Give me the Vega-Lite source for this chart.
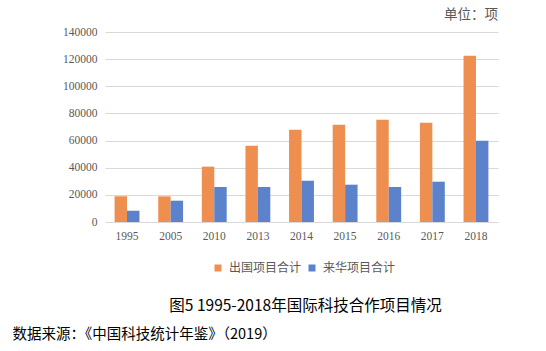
{
  "$schema": "https://vega.github.io/schema/vega-lite/v6.json",
  "width": 393,
  "height": 190,
  "autosize": {"type": "none"},
  "padding": {"left": 105, "top": 32, "right": 48, "bottom": 129},
  "background": "white",
  "title": {
    "text": "单位：项",
    "anchor": "end",
    "frame": "group",
    "orient": "top",
    "font": "Noto Sans CJK SC",
    "fontSize": 13.5,
    "fontWeight": "normal",
    "color": "#595959",
    "offset": 5
  },
  "data": {
    "values": [
      {"year": "1995", "type": "出国项目合计", "value": 18900},
      {"year": "1995", "type": "来华项目合计", "value": 8300},
      {"year": "2005", "type": "出国项目合计", "value": 18900},
      {"year": "2005", "type": "来华项目合计", "value": 15700},
      {"year": "2010", "type": "出国项目合计", "value": 40800},
      {"year": "2010", "type": "来华项目合计", "value": 25800},
      {"year": "2013", "type": "出国项目合计", "value": 56200},
      {"year": "2013", "type": "来华项目合计", "value": 25800},
      {"year": "2014", "type": "出国项目合计", "value": 68000},
      {"year": "2014", "type": "来华项目合计", "value": 30400},
      {"year": "2015", "type": "出国项目合计", "value": 71700},
      {"year": "2015", "type": "来华项目合计", "value": 27500},
      {"year": "2016", "type": "出国项目合计", "value": 75400},
      {"year": "2016", "type": "来华项目合计", "value": 25800},
      {"year": "2017", "type": "出国项目合计", "value": 73200},
      {"year": "2017", "type": "来华项目合计", "value": 29700},
      {"year": "2018", "type": "出国项目合计", "value": 122500},
      {"year": "2018", "type": "来华项目合计", "value": 59900}
    ]
  },
  "mark": {"type": "bar"},
  "encoding": {
    "x": {
      "field": "year",
      "type": "nominal",
      "sort": null,
      "scale": {"paddingInner": 0.43, "paddingOuter": 0.22},
      "axis": {
        "title": "图5 1995-2018年国际科技合作项目情况",
        "titleX": 200,
        "titleY": 83,
        "titleAlign": "center",
        "titleBaseline": "middle",
        "titleFont": "Noto Sans CJK SC",
        "titleFontSize": 15.5,
        "titleFontWeight": "normal",
        "titleColor": "#000000",
        "labelAngle": 0,
        "labelFont": "Liberation Serif",
        "labelFontSize": 11.5,
        "labelColor": "#595959",
        "labelPadding": 8,
        "domain": false,
        "ticks": false,
        "grid": false
      }
    },
    "xOffset": {
      "field": "type",
      "type": "nominal",
      "sort": ["出国项目合计", "来华项目合计"]
    },
    "y": {
      "field": "value",
      "type": "quantitative",
      "scale": {"domain": [0, 140000], "nice": false},
      "axis": {
        "values": [0, 20000, 40000, 60000, 80000, 100000, 120000, 140000],
        "format": "d",
        "title": "数据来源：《中国科技统计年鉴》（2019）",
        "titleAngle": 0,
        "titleX": -93,
        "titleY": 302,
        "titleAlign": "left",
        "titleBaseline": "middle",
        "titleFont": "Noto Sans CJK SC",
        "titleFontSize": 14.5,
        "titleFontWeight": "normal",
        "titleColor": "#000000",
        "labelFont": "Liberation Serif",
        "labelFontSize": 11.5,
        "labelColor": "#595959",
        "labelPadding": 8,
        "domain": false,
        "ticks": false,
        "grid": true,
        "gridColor": "#d9d9d9",
        "gridWidth": 1
      }
    },
    "color": {
      "field": "type",
      "type": "nominal",
      "scale": {
        "domain": ["出国项目合计", "来华项目合计"],
        "range": ["#EF8F4F", "#5B82CA"]
      },
      "legend": {
        "title": null,
        "orient": "none",
        "legendX": 107,
        "legendY": 230,
        "direction": "horizontal",
        "symbolType": "square",
        "symbolSize": 49,
        "symbolStrokeWidth": 0,
        "labelFont": "Noto Sans CJK SC",
        "labelFontSize": 12,
        "labelColor": "#595959",
        "labelOffset": 5,
        "columnPadding": 4
      }
    }
  },
  "config": {"view": {"stroke": null}}
}
